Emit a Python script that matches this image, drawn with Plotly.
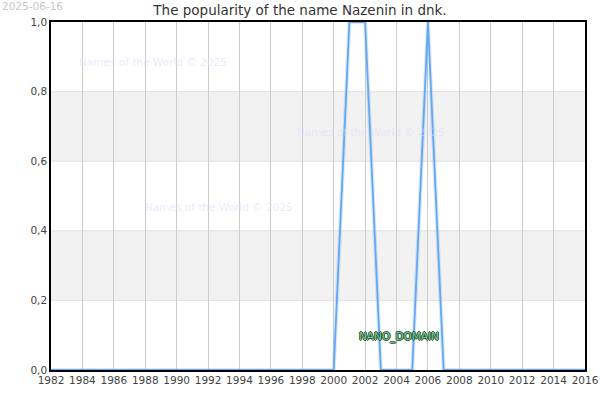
import plotly.graph_objects as go

years = list(range(1982, 2017))
values = [0]*19 + [1, 1, 0, 0, 0, 1] + [0]*10  # 1982..2000 zero, 2001,2002 =1, 2006 =1
title_text = "The popularity of the name Nazenin in dnk."
date_text = "2025-06-16"
watermark = "Names of the World © 2025"
wm_pos = [(1988.5, 0.885), (2002.35, 0.685), (1992.7, 0.467)]
bands = [(0.2, 0.4), (0.6, 0.8)]

fig = go.Figure()
# glow
fig.add_trace(go.Scatter(x=years, y=values, mode="lines",
                         line=dict(color="rgba(100,168,240,0.25)", width=4),
                         hoverinfo="skip", showlegend=False))
fig.add_trace(go.Scatter(x=years, y=values, mode="lines",
                         line=dict(color="#64a8f0", width=1.8),
                         showlegend=False))

shapes = []
for y0, y1 in bands:
    shapes.append(dict(type="rect", xref="paper", yref="y", x0=0, x1=1, y0=y0, y1=y1,
                       fillcolor="#f2f2f2", line=dict(width=0), layer="below"))
for yv in [0.2, 0.4, 0.6, 0.8]:
    shapes.append(dict(type="line", xref="paper", yref="y", x0=0, x1=1, y0=yv, y1=yv,
                       line=dict(color="#e0e0e0", width=1), layer="below"))

annotations = []
for (xw, yw) in wm_pos:
    annotations.append(dict(x=xw, y=yw, xref="x", yref="y", text=watermark, showarrow=False,
                            font=dict(family="DejaVu Sans", size=10.5, color="rgba(220,220,250,0.6)")))
annotations.append(dict(x=2004.15, y=0.097, xref="x", yref="y", text="NANO_DOMAIN", showarrow=False,
                        font=dict(family="DejaVu Sans", size=10.5, color="#7fc795",
                                  shadow="1px 0 0 #1f5530, -1px 0 0 #1f5530, 0 1px 0 #1f5530, 0 -1px 0 #1f5530")))
annotations.append(dict(x=-51/534, y=1 + 24/348, xref="paper", yref="paper", xanchor="left", yanchor="top",
                        text=date_text, showarrow=False,
                        font=dict(family="DejaVu Sans", size=10.5, color="#c8c8c8")))

fig.update_layout(
    width=600, height=400,
    margin=dict(l=51, r=15, t=22, b=30, autoexpand=False),
    paper_bgcolor="white", plot_bgcolor="white",
    separators=",.",
    title=dict(text=title_text, x=0.5, xanchor="center", y=1 - 10/400, yanchor="middle",
               font=dict(family="DejaVu Sans", size=13.5, color="#333")),
    shapes=shapes, annotations=annotations,
    xaxis=dict(range=[1982, 2016], dtick=2, tick0=1982, showgrid=True, gridcolor="#cccccc",
               gridwidth=1, showline=True, linecolor="black", linewidth=1.5, mirror=True,
               ticks="", zeroline=False, automargin=False, tickangle=0,
               tickfont=dict(family="DejaVu Sans", size=10.5, color="#444")),
    yaxis=dict(range=[0, 1], dtick=0.2, tickformat=".1f", showgrid=False,
               showline=True, linecolor="black", linewidth=1.5, mirror=True,
               ticks="", zeroline=False, automargin=False,
               tickfont=dict(family="DejaVu Sans", size=10.5, color="#444")),
)

fig.write_html("out.html", config={"displayModeBar": False},
               post_script="document.body.style.margin='0';")
